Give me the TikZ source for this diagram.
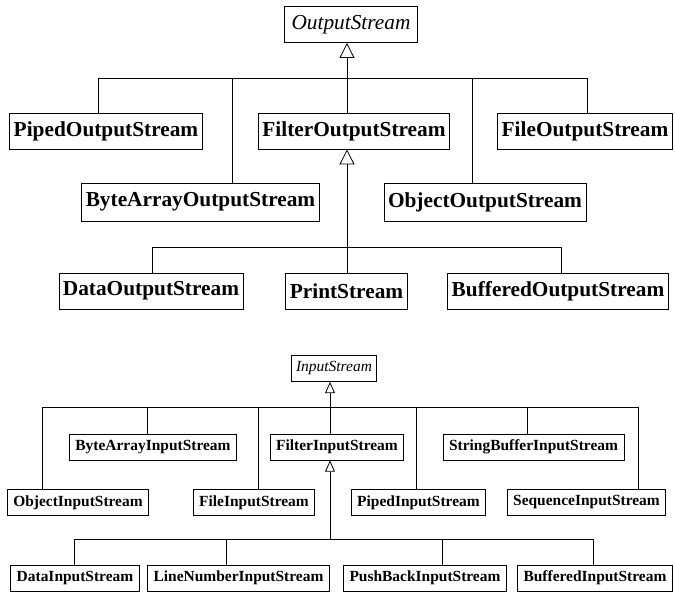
\documentclass[tikz,border=0pt]{standalone}
\usepackage{fontspec}
\setmainfont{Liberation Serif}
\usetikzlibrary{%
  arrows.meta,%
  positioning%
}

\begin{document}
\begin{tikzpicture}[
    x=0.75pt,y=-0.75pt,
    line width=0.6pt,line join=miter,
    inherit/.style={-{Triangle[open,width=11.25pt,length=11.25pt]}},
    inheritsmall/.style={-{Triangle[open,width=7.5pt,length=8.5pt]}},
    big/.style={rectangle,draw,fill=white,
        font=\fontsize{16}{18}\selectfont\bfseries,
        minimum height=27pt,inner xsep=3pt,inner ysep=0pt},
    bigabstract/.style={big,font=\fontsize{16}{18}\selectfont\itshape,
        inner xsep=5pt},
    small/.style={rectangle,draw,fill=white,
        font=\fontsize{11.6}{13}\selectfont\bfseries,
        minimum height=19.5pt,inner xsep=4.5pt,inner ysep=0pt},
    smallabstract/.style={small,font=\fontsize{11.6}{13}\selectfont\itshape,
        inner xsep=3.5pt}
  ]
    \useasboundingbox (0,0) rectangle (675,593);

    % output streams
    \node [bigabstract] (ostream)  at (351,24.5)  {OutputStream};
    \node [big]         (piped)    at (106,131)   {PipedOutputStream};
    \node [big]         (filter)   at (354,131)   {FilterOutputStream};
    \node [big]         (file)     at (585,131)   {FileOutputStream};
    \node [big,minimum height=28.5pt] (bytearr) at (200.5,202) {ByteArrayOutputStream};
    \node [big,minimum height=28.5pt] (object)  at (485,202)   {ObjectOutputStream};
    \node [big]         (data)     at (151,291)   {DataOutputStream};
    \node [big]         (print)    at (346.5,291) {PrintStream};
    \node [big]         (buffered) at (558,291)   {BufferedOutputStream};

    \coordinate (ol) at (98,78);
    \coordinate (or) at (587,78);
    \coordinate (oj) at (347,78);
    \coordinate (ob) at (232,78);
    \coordinate (oo) at (472,78);
    \draw (piped.north -| ol) -- (ol) -- (or) -- (file.north -| or);
    \foreach \c/\n in {ob/bytearr,oo/object}
        \draw (\c) -- (\c |- \n.north);
    \draw (filter.north -| oj) -- (oj);
    \draw [inherit] (oj) -- (oj |- ostream.south);

    \coordinate (fl) at (152,247);
    \coordinate (fr) at (561,247);
    \coordinate (fj) at (347,247);
    \draw (data.north -| fl) -- (fl) -- (fr) -- (buffered.north -| fr);
    \draw [inherit] (print.north -| fj) -- (fj |- filter.south);

    % input streams
    \node [smallabstract] (istream)   at (334,368.5)   {InputStream};
    \node [small]         (ibytearr)  at (153,447)     {ByteArrayInputStream};
    \node [small]         (ifilter)   at (337,447)     {FilterInputStream};
    \node [small]         (istrbuf)   at (533.5,447)   {StringBufferInputStream};
    \node [small]         (iobject)   at (78,502.5)    {ObjectInputStream};
    \node [small]         (ifile)     at (254,502.5)   {FileInputStream};
    \node [small]         (ipiped)    at (418.5,502.5) {PipedInputStream};
    \node [small]         (isequence) at (586.5,502.5) {SequenceInputStream};
    \node [small]         (idata)     at (75,578)      {DataInputStream};
    \node [small]         (ilinenum)  at (238.5,578)   {LineNumberInputStream};
    \node [small]         (ipushback) at (425,578)     {PushBackInputStream};
    \node [small]         (ibuffered) at (595,578)     {BufferedInputStream};

    \coordinate (il) at (42,407);
    \coordinate (ir) at (638,407);
    \coordinate (ij) at (330,407);
    \coordinate (ib) at (147,407);
    \coordinate (if) at (258,407);
    \coordinate (ip) at (416,407);
    \coordinate (is) at (527,407);
    \draw (iobject.north -| il) -- (il) -- (ir) -- (isequence.north -| ir);
    \foreach \c/\n in {ib/ibytearr,if/ifile,ip/ipiped,is/istrbuf}
        \draw (\c) -- (\c |- \n.north);
    \draw (ifilter.north -| ij) -- (ij);
    \draw [inheritsmall] (ij) -- (ij |- istream.south);

    \coordinate (jl) at (74,539);
    \coordinate (jr) at (593,539);
    \coordinate (jj) at (330,539);
    \coordinate (jn) at (226,539);
    \coordinate (jp) at (442,539);
    \draw (idata.north -| jl) -- (jl) -- (jr) -- (ibuffered.north -| jr);
    \foreach \c/\n in {jn/ilinenum,jp/ipushback}
        \draw (\c) -- (\c |- \n.north);
    \draw [inheritsmall] (jj) -- (jj |- ifilter.south);
\end{tikzpicture}
\end{document}
